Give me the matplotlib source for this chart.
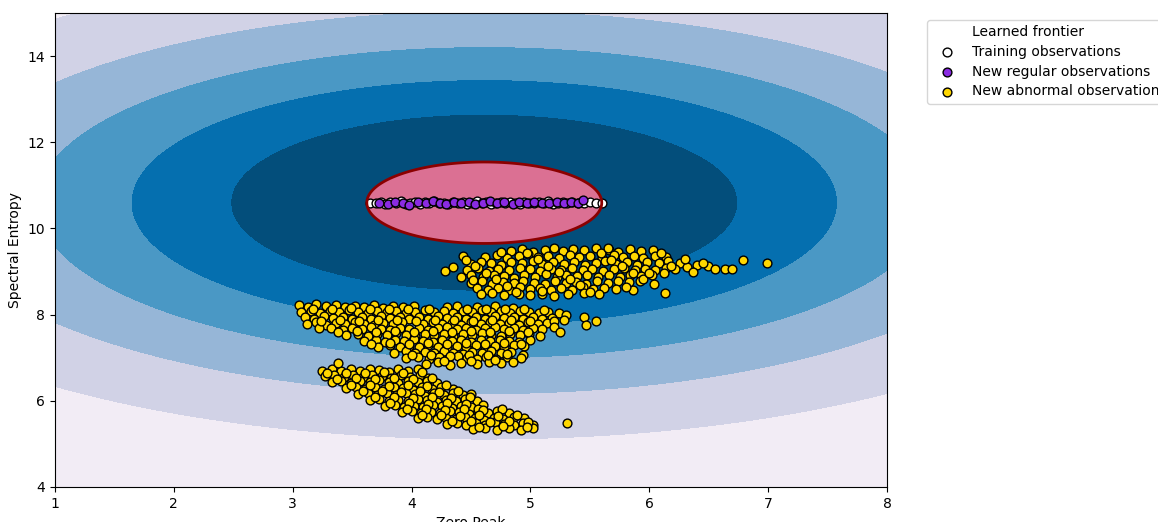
import numpy as np
import matplotlib
matplotlib.use("Agg")
import matplotlib.pyplot as plt
from matplotlib.lines import Line2D

# ---------------- data ----------------
train_pts = [(3.65,10.6),(3.7,10.58),(3.74,10.62),(3.78,10.57),(3.82,10.61),(3.87,10.59),(3.91,10.63),(3.95,10.56),
             (3.99,10.6),(4.03,10.62),(4.07,10.57),(4.11,10.61),(4.15,10.59),(4.19,10.63),(4.23,10.58),(4.27,10.6),
             (4.31,10.56),(4.35,10.62),(4.39,10.59),(4.43,10.61),(4.47,10.57),(4.51,10.6),(4.55,10.63),(4.59,10.58),
             (4.63,10.61),(4.67,10.56),(4.71,10.6),(4.75,10.62),(4.79,10.58),(4.83,10.61),(4.87,10.59),(4.91,10.57),
             (4.95,10.62),(4.99,10.6),(5.03,10.58),(5.07,10.61),(5.11,10.59),(5.15,10.63),(5.19,10.57),(5.23,10.6),
             (5.27,10.62),(5.31,10.58),(5.35,10.61),(5.4,10.6),(5.45,10.59),(5.5,10.61),(5.55,10.6),(5.6,10.6)]

regular_pts = [(3.73,10.6),(3.8,10.57),(3.86,10.62),(3.93,10.59),(3.98,10.55),(4.05,10.61),(4.12,10.58),(4.18,10.63),
               (4.24,10.6),(4.29,10.56),(4.36,10.61),(4.42,10.58),(4.48,10.62),(4.53,10.57),(4.6,10.6),(4.66,10.63),
               (4.72,10.58),(4.78,10.61),(4.85,10.57),(4.9,10.61),(4.97,10.59),(5.03,10.62),(5.1,10.58),(5.16,10.6),
               (5.22,10.61),(5.28,10.58),(5.34,10.62),(5.4,10.59),(5.44,10.65)]

abn_a = [(4.84,9.48),(4.93,9.52),(5.02,9.46),(5.12,9.5),(5.2,9.55),(5.27,9.47),(5.36,9.52),(5.45,9.49),(5.55,9.54),(5.66,9.51),
         (5.74,9.46),(5.84,9.52),(5.93,9.48),(6.03,9.5),
         (4.43,9.35),(4.62,9.33),(4.72,9.38),(4.8,9.31),(4.9,9.36),(4.98,9.4),(5.06,9.33),(5.15,9.37),(5.24,9.32),(5.33,9.39),
         (5.41,9.34),(5.5,9.36),(5.6,9.31),(5.7,9.38),(5.78,9.33),(5.87,9.37),(5.95,9.32),(6.05,9.36),(6.14,9.33),
         (4.5,9.18),(4.58,9.23),(4.67,9.2),(4.75,9.16),(4.84,9.22),(4.93,9.19),(5.02,9.24),(5.1,9.17),(5.19,9.21),(5.28,9.18),
         (5.37,9.23),(5.46,9.16),(5.55,9.2),(5.63,9.24),(5.72,9.18),(5.81,9.21),(5.9,9.16),(5.98,9.22),(6.08,9.19),(6.16,9.24),
         (6.26,9.2),(6.4,9.16),(6.49,9.13),(6.79,9.26),(6.99,9.19),
         (4.47,9.04),(4.56,9.08),(4.65,9.02),(4.73,9.07),(4.82,9.03),(4.91,9.09),(5.0,9.05),(5.08,9.01),(5.17,9.06),(5.26,9.03),
         (5.35,9.08),(5.44,9.04),(5.52,9.07),(5.61,9.02),(5.7,9.06),(5.79,9.09),(5.88,9.03),(5.96,9.07),(6.05,9.04),(6.14,9.08),
         (6.22,9.05),(6.32,9.1),(6.55,9.05),(6.64,9.07),(6.7,9.07),(4.28,9.02),
         (4.42,8.88),(4.5,8.92),(4.6,8.87),(4.69,8.93),(4.78,8.89),(4.86,8.86),(4.95,8.91),(5.04,8.88),(5.13,8.94),(5.22,8.87),
         (5.3,8.91),(5.39,8.89),(5.48,8.93),(5.57,8.87),(5.66,8.91),(5.75,8.88),(5.84,8.93),(5.93,8.89),(6.02,8.92),(6.12,8.96),
         (6.37,8.98),
         (4.5,8.74),(4.59,8.77),(4.68,8.72),(4.77,8.76),(4.86,8.73),(4.94,8.78),(5.03,8.74),(5.12,8.71),(5.21,8.77),(5.3,8.73),
         (5.38,8.76),(5.47,8.72),(5.56,8.77),(5.65,8.74),(5.74,8.78),(5.83,8.75),(5.92,8.79),
         (4.55,8.62),(4.64,8.58),(4.73,8.61),(4.82,8.57),(4.91,8.63),(5.0,8.59),(5.08,8.62),(5.17,8.57),(5.26,8.61),(5.35,8.58),
         (5.44,8.63),(5.53,8.59),(5.62,8.61),(5.72,8.6),(5.86,8.58),(6.13,8.51),
         (4.58,8.47),(4.68,8.5),(4.78,8.46),(4.9,8.49),(5.0,8.45),(5.1,8.48),(5.2,8.44),(5.32,8.47),(5.45,8.5),(5.58,8.49),
         (4.46,9.27),(4.53,9.12),(4.63,8.97),(4.71,8.82),(4.8,8.67),(4.88,8.53),(4.97,9.43),(5.06,9.28),(5.15,9.13),(5.24,8.98),
         (5.33,8.83),(5.42,8.68),(5.5,8.53),(5.59,9.42),(5.68,9.27),(5.77,9.12),(5.86,8.97),(5.95,8.83),(6.04,8.7),(6.18,9.14),
         (6.1,9.44),(4.35,9.1),(4.52,8.8),(5.8,8.65),(6.0,8.96),(6.3,9.28),(6.45,9.2),(5.1,8.55),(4.75,9.45),(5.65,9.55)]

abn_b = [(3.05,8.22),(3.13,8.18),(3.2,8.24),(3.28,8.19),(3.36,8.23),(3.44,8.17),(3.52,8.21),(3.6,8.18),(3.68,8.23),(3.76,8.16),
         (3.84,8.2),(3.93,8.17),(4.02,8.21),(4.3,8.18),(4.38,8.2),(4.55,8.17),(4.7,8.19),(4.85,8.16),
         (3.07,8.06),(3.15,8.09),(3.23,8.04),(3.31,8.08),(3.39,8.05),(3.47,8.1),(3.55,8.06),(3.63,8.03),(3.71,8.08),(3.79,8.05),
         (3.87,8.09),(3.95,8.04),(4.03,8.07),(4.11,8.1),(4.19,8.05),(4.27,8.08),(4.35,8.04),(4.43,8.09),(4.51,8.06),(4.59,8.1),
         (4.67,8.05),(4.75,8.08),(4.83,8.04),(4.91,8.09),(4.99,8.06),(5.07,8.03),(5.15,8.07),(5.24,8.04),(5.3,7.98),
         (3.1,7.94),(3.18,7.91),(3.26,7.96),(3.34,7.92),(3.42,7.95),(3.5,7.9),(3.58,7.94),(3.66,7.91),(3.74,7.96),(3.82,7.92),
         (3.9,7.95),(3.98,7.9),(4.06,7.94),(4.14,7.91),(4.22,7.96),(4.3,7.92),(4.38,7.95),(4.46,7.9),(4.54,7.94),(4.62,7.91),
         (4.7,7.96),(4.78,7.92),(4.86,7.95),(4.94,7.9),(5.02,7.94),(5.1,7.91),(5.18,7.93),(5.28,7.88),(5.45,7.95),
         (3.12,7.79),(3.2,7.82),(3.28,7.77),(3.36,7.81),(3.44,7.78),(3.52,7.83),(3.6,7.79),(3.68,7.76),(3.76,7.81),(3.84,7.78),
         (3.92,7.82),(4.1,7.79),(4.18,7.83),(4.26,7.78),(4.34,7.81),(4.42,7.77),(4.5,7.82),(4.58,7.79),(4.66,7.83),(4.74,7.78),
         (4.82,7.81),(4.9,7.77),(4.98,7.82),(5.06,7.79),(5.14,7.8),(5.55,7.85),(5.47,7.75),
         (3.22,7.68),(3.32,7.7),(3.42,7.65),(3.5,7.69),(3.58,7.66),(3.66,7.71),(3.74,7.67),(3.82,7.64),(3.9,7.69),(3.98,7.66),
         (4.06,7.7),(4.14,7.65),(4.22,7.68),(4.3,7.71),(4.38,7.66),(4.46,7.69),(4.54,7.64),(4.62,7.68),(4.7,7.71),(4.78,7.66),
         (4.86,7.69),(4.94,7.65),(5.02,7.7),(5.1,7.67),
         (3.45,7.53),(3.55,7.56),(3.63,7.51),(3.71,7.55),(3.79,7.52),(3.87,7.57),(3.95,7.53),(4.03,7.5),(4.11,7.55),(4.19,7.52),
         (4.27,7.56),(4.35,7.51),(4.43,7.55),(4.51,7.52),(4.59,7.57),(4.67,7.53),(4.75,7.5),(4.83,7.55),(4.91,7.52),(4.99,7.56),
         (5.08,7.5),
         (3.6,7.39),(3.7,7.42),(3.78,7.37),(3.86,7.41),(3.94,7.38),(4.02,7.43),(4.1,7.39),(4.18,7.36),(4.26,7.41),(4.34,7.38),
         (4.42,7.42),(4.5,7.37),(4.58,7.41),(4.66,7.38),(4.74,7.42),(4.82,7.39),(4.9,7.36),(5.0,7.4),
         (3.72,7.26),(3.82,7.29),(3.9,7.24),(3.98,7.28),(4.06,7.25),(4.14,7.3),(4.22,7.26),(4.3,7.23),(4.38,7.28),(4.46,7.25),
         (4.54,7.29),(4.62,7.24),(4.7,7.28),(4.78,7.25),(4.86,7.3),(4.95,7.27),
         (3.85,7.12),(3.95,7.15),(4.03,7.1),(4.11,7.14),(4.19,7.11),(4.27,7.16),(4.35,7.12),(4.43,7.09),(4.51,7.14),(4.59,7.11),
         (4.67,7.15),(4.75,7.1),(4.84,7.14),(4.94,7.07),
         (3.95,6.99),(4.05,7.02),(4.15,6.97),(4.23,7.01),(4.31,6.98),(4.39,7.03),(4.47,6.99),(4.55,6.96),(4.63,7.01),(4.71,6.98),
         (4.8,7.02),(4.92,7.0),
         (4.12,6.86),(4.22,6.89),(4.32,6.84),(4.42,6.88),(4.55,6.85),(4.65,6.9),(4.75,6.87),(4.85,6.91),
         (3.17,8.13),(3.33,8.14),(3.49,8.15),(3.65,8.12),(3.81,8.13),(3.97,8.12),(4.15,8.14),(4.47,8.13),(4.63,8.14),(4.79,8.13),
         (4.95,8.12),(5.11,8.11),(3.24,7.86),(3.4,7.87),(3.56,7.86),(3.72,7.88),(3.88,7.87),(4.04,7.86),(4.2,7.87),(4.36,7.88),
         (4.52,7.86),(4.68,7.87),(4.84,7.88),(5.0,7.86),(5.2,7.85),(3.38,7.6),(3.54,7.61),(3.7,7.6),(3.86,7.62),(4.02,7.6),
         (4.18,7.61),(4.34,7.6),(4.5,7.62),(4.66,7.6),(4.82,7.61),(4.98,7.59),(3.66,7.33),(3.82,7.34),(3.98,7.33),(4.14,7.35),
         (4.3,7.33),(4.46,7.34),(4.62,7.33),(4.78,7.35),(4.92,7.33),(4.0,7.06),(4.16,7.07),(4.32,7.05),(4.48,7.07),(4.64,7.06),
         (4.8,7.08),(4.27,6.93),(4.5,6.92),(4.7,6.94),(5.2,7.72),(5.25,7.6)]

abn_c = [(3.25,6.7),(3.33,6.74),(3.41,6.69),(3.49,6.73),(3.57,6.7),(3.65,6.75),(3.73,6.71),(3.81,6.68),(3.89,6.73),(3.97,6.7),
         (4.05,6.74),(3.38,6.88),
         (3.27,6.57),(3.35,6.6),(3.43,6.55),(3.51,6.59),(3.59,6.56),(3.67,6.61),(3.75,6.57),(3.83,6.54),(3.91,6.59),(3.99,6.56),
         (4.07,6.6),(4.14,6.53),
         (3.33,6.44),(3.41,6.47),(3.49,6.42),(3.57,6.46),(3.65,6.43),(3.73,6.48),(3.81,6.44),(3.89,6.41),(3.97,6.46),(4.05,6.43),
         (4.13,6.47),(4.21,6.42),
         (3.45,6.29),(3.53,6.32),(3.61,6.27),(3.69,6.31),(3.77,6.28),(3.85,6.33),(3.93,6.29),(4.01,6.26),(4.09,6.31),(4.17,6.28),
         (4.25,6.32),(4.35,6.27),
         (3.55,6.15),(3.63,6.18),(3.71,6.13),(3.79,6.17),(3.87,6.14),(3.95,6.19),(4.03,6.15),(4.11,6.12),(4.19,6.17),(4.27,6.14),
         (4.35,6.18),(4.43,6.13),(4.5,6.15),
         (3.65,6.01),(3.73,6.04),(3.81,5.99),(3.89,6.03),(3.97,6.0),(4.05,6.05),(4.13,6.01),(4.21,5.98),(4.29,6.03),(4.37,6.0),
         (4.45,6.04),(4.55,5.99),
         (3.78,5.87),(3.86,5.9),(3.94,5.85),(4.02,5.89),(4.1,5.86),(4.18,5.91),(4.26,5.87),(4.34,5.84),(4.42,5.89),(4.5,5.86),
         (4.6,5.9),
         (3.92,5.73),(4.0,5.76),(4.08,5.71),(4.16,5.75),(4.24,5.72),(4.32,5.77),(4.4,5.73),(4.48,5.7),(4.56,5.75),(4.64,5.72),
         (4.72,5.76),(4.82,5.71),
         (4.05,5.59),(4.13,5.62),(4.21,5.57),(4.29,5.61),(4.37,5.58),(4.45,5.63),(4.53,5.59),(4.61,5.56),(4.69,5.61),(4.77,5.58),
         (4.86,5.62),(4.95,5.59),
         (4.3,5.46),(4.38,5.49),(4.46,5.44),(4.54,5.48),(4.62,5.45),(4.7,5.5),(4.78,5.46),(4.86,5.43),(4.94,5.48),(5.02,5.45),
         (5.31,5.49),
         (4.52,5.34),(4.62,5.37),(4.72,5.32),(4.82,5.36),(4.92,5.33),(5.02,5.37),
         (3.29,6.64),(3.45,6.65),(3.61,6.64),(3.77,6.66),(3.93,6.64),(4.09,6.66),(3.37,6.51),(3.53,6.52),(3.69,6.5),(3.85,6.52),
         (4.01,6.5),(4.17,6.52),(3.49,6.36),(3.65,6.37),(3.81,6.35),(3.97,6.37),(4.13,6.35),(4.29,6.37),(3.59,6.22),(3.75,6.23),
         (3.91,6.21),(4.07,6.23),(4.23,6.21),(4.39,6.23),(3.69,6.08),(3.85,6.09),(4.01,6.07),(4.17,6.09),(4.33,6.07),(4.49,6.09),
         (3.82,5.94),(3.98,5.95),(4.14,5.93),(4.3,5.95),(4.46,5.93),(4.56,5.8),(3.96,5.8),(4.12,5.81),(4.28,5.79),(4.44,5.81),
         (4.6,5.79),(4.76,5.81),(4.09,5.66),(4.25,5.67),(4.41,5.65),(4.57,5.67),(4.73,5.65),(4.89,5.66),(4.34,5.53),(4.5,5.54),
         (4.66,5.52),(4.82,5.54),(4.98,5.52),(4.57,5.4),(4.77,5.41),(4.97,5.4)]

legend_labels = ["Learned frontier", "Training observations",
                 "New regular observations", "New abnormal observations"]
x_label = "Zero Peak"
y_label = "Spectral Entropy"
kernel_gamma = (0.05, 0.053)   # per-feature RBF width

# ---------------- model (RBF one-class style decision function) ----------------
X_train = np.array(train_pts)
X_reg = np.array(regular_pts)
X_abn = np.array(abn_a + abn_b + abn_c)
g = np.array(kernel_gamma)

def score(P):
    d2 = (g * (P[:, None, :] - X_train[None, :, :]) ** 2).sum(-1)
    return np.exp(-d2).mean(axis=1)

rho = score(X_train).min()
xx, yy = np.meshgrid(np.linspace(1, 8, 500), np.linspace(4, 15, 500))
Z = (score(np.c_[xx.ravel(), yy.ravel()]) - rho).reshape(xx.shape)

# ---------------- figure ----------------
dpi = 100
fig = plt.figure(figsize=(1158 / dpi, 522 / dpi), dpi=dpi)
ax = fig.add_axes([55 / 1158, 35 / 522, 832 / 1158, 474 / 522])

ax.contourf(xx, yy, Z, levels=np.linspace(Z.min(), 0, 7), cmap=plt.cm.PuBu)
ax.contour(xx, yy, Z, levels=[0], linewidths=2, colors="darkred")
ax.contourf(xx, yy, Z, levels=[0, Z.max()], colors="palevioletred")

s = 40
b1 = ax.scatter(X_train[:, 0], X_train[:, 1], c="white", s=s, edgecolors="k")
b2 = ax.scatter(X_reg[:, 0], X_reg[:, 1], c="blueviolet", s=s, edgecolors="k")
c = ax.scatter(X_abn[:, 0], X_abn[:, 1], c="gold", s=s, edgecolors="k")

ax.set_xlim(1, 8)
ax.set_ylim(4, 15)
ax.set_xlabel(x_label)
ax.set_ylabel(y_label)

frontier_handle = Line2D([], [], linestyle="none", marker="none")
ax.legend([frontier_handle, b1, b2, c], legend_labels,
          loc="upper left", bbox_to_anchor=(1.04, 1), fontsize=10, labelspacing=0.4)

fig.savefig("out.png", dpi=dpi)
